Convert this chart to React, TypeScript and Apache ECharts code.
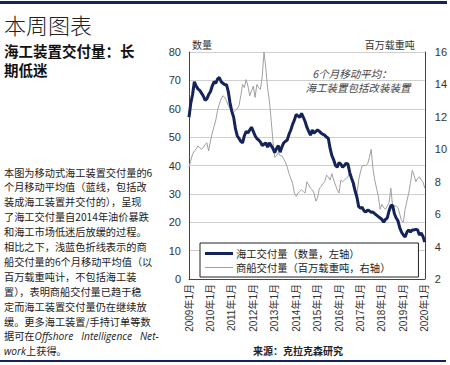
import React, { useEffect, useRef } from "react";
import * as echarts from "echarts";

// Monthly categories 2009年1月 .. 2020年1月
const months: string[] = [];
for (let y = 2009; y <= 2020; y++) {
  for (let m = 1; m <= 12; m++) {
    if (y === 2020 && m > 1) break;
    months.push(`${y}年${m}月`);
  }
}

// 海工交付量（数量，左轴） — 6-month moving average
const offshoreDeliveries = [
  57, 62, 65, 69.5, 68, 67, 66.5, 65.5, 64.5, 63, 63.5, 65,
  66, 68, 69.5, 69, 70.5, 71, 69.5, 69, 68.5, 68.5, 66, 62,
  59, 57, 53, 50.5, 49.5, 48.5, 48, 50.5, 52, 51.5, 52.5, 53.5,
  52, 50.5, 49.5, 49, 48.3, 47, 47.5, 48, 46.5, 48, 47, 46,
  44.5, 46, 47, 44.7, 46.5, 48, 48.5, 49, 51, 52.5, 54.5, 56,
  58, 57.5, 57, 58.4, 57, 55.5, 53.5, 52, 50.7, 52.5, 51.4, 52,
  52.5, 52, 51.4, 51, 50.7, 50, 49.6, 46, 43.5, 42, 40, 39.4,
  41, 40.5, 39.4, 40, 40.8, 40.5, 37.5, 35.5, 33.8, 31, 28.9, 25.5,
  25, 25.2, 24, 23.6, 24.3, 24, 23.5, 23.6, 23, 22.5, 22, 21.5,
  21, 20, 21, 21.5, 24, 25.8, 26, 23, 21.5, 20.5, 18, 16.5,
  15.5, 14.8, 16.5, 17.3, 16.5, 17.3, 17.3, 17.5, 17.3, 15.5, 16.2, 15,
  13,
];

// 商船交付量（百万载重吨，右轴） — 6-month moving average
const merchantDeliveries = [
  8.9, 9.3, 9.7, 9.9, 10.0, 10.2, 10.1, 10.0, 10.1, 10.3, 10.4, 9.9,
  10.5, 11.0, 11.4, 11.8, 12.4, 12.8, 13.1, 13.3, 13.2, 13.0, 12.7, 12.5,
  12.4, 12.3, 12.4, 12.5, 12.7, 13.3, 14.0, 13.8, 14.3, 13.9, 13.3, 13.6,
  13.9, 13.2, 14.0, 13.8, 13.7, 14.5, 16.0, 15.0, 13.8, 13.0, 11.8, 10.5,
  9.5, 9.6, 9.8, 9.6, 9.6, 9.4, 9.2, 8.9, 8.5, 8.2, 7.9, 7.3,
  7.1, 7.3, 7.4, 7.5, 7.4, 7.3, 8.0, 7.8, 7.6, 7.5, 7.3, 6.8,
  7.0, 7.6, 7.7, 7.9, 8.0, 8.4, 8.3, 8.1, 8.5, 8.1, 7.8, 7.5,
  7.3, 8.1, 8.0, 8.1, 8.2, 8.3, 8.6, 8.2, 7.6, 7.4, 7.2, 8.1,
  8.6, 9.0, 9.0, 9.0, 9.1, 9.5, 10.0, 8.8, 8.1, 7.6, 7.1, 6.3,
  6.6, 6.4, 6.3, 6.5, 6.7, 7.6, 6.5, 6.5, 6.5, 6.4, 6.0, 5.6,
  5.5, 6.3, 6.8, 7.3, 7.9, 8.7, 8.4, 8.0, 8.2, 8.3, 8.1, 8.0,
  7.6,
];

const seriesNames = ["海工交付量（数量，左轴）", "商船交付量（百万载重吨，右轴）"];

const title = "本周图表";
const subtitleLines = ["海工装置交付量：长", "期低迷"];
const bodyLines = [
  "本图为移动式海工装置交付量的6",
  "个月移动平均值（蓝线，包括改",
  "装成海工装置并交付的），呈现",
  "了海工交付量自2014年油价暴跌",
  "和海工市场低迷后放缓的过程。",
  "相比之下，浅蓝色折线表示的商",
  "船交付量的6个月移动平均值（以",
  "百万载重吨计，不包括海工装",
  "置），表明商船交付量已趋于稳",
  "定而海工装置交付量仍在继续放",
  "缓。更多海工装置/手持订单等数",
];
const annotationLines = ["6个月移动平均：", "海工装置包括改装装置"];
const sourceText = "来源：克拉克森研究";

const CJK = "'Noto Sans CJK SC', 'Liberation Sans', sans-serif";
const NUM = "'Liberation Sans', Arial, 'Noto Sans CJK SC', sans-serif";
const NAVY = "#14245a";
const BODY_FONT = 10.2;

export default function App() {
  const ref = useRef<HTMLDivElement>(null);
  useEffect(() => {
    if (!ref.current) return;
    const chart = echarts.init(ref.current, undefined, { renderer: "svg" });

    const bodyGraphics: any[] = bodyLines.map((t, i) => ({
      type: "text",
      left: 4,
      top: 167 + i * 14.9,
      style: { text: t, font: `${BODY_FONT}px ${CJK}`, fill: "#222" },
    }));
    bodyGraphics.push({
      type: "text",
      left: 4,
      top: 167 + 11 * 14.9,
      style: {
        text: "{n|据可在}{i|Offshore   Intelligence   Net-}",
        rich: {
          n: { font: `${BODY_FONT}px ${CJK}`, fill: "#222" },
          i: { font: `italic ${BODY_FONT}px 'Open Sans', ${CJK}`, fill: "#222" },
        },
      },
    });
    bodyGraphics.push({
      type: "text",
      left: 4,
      top: 167 + 12 * 14.9,
      style: {
        text: "{i|work}{n|上获得。}",
        rich: {
          n: { font: `${BODY_FONT}px ${CJK}`, fill: "#222" },
          i: { font: `italic ${BODY_FONT}px 'Open Sans', ${CJK}`, fill: "#222" },
        },
      },
    });

    chart.setOption({
      animation: false,
      backgroundColor: "#fff",
      grid: { left: 189, right: 25, top: 52, bottom: 86, containLabel: false },
      legend: {
        orient: "vertical",
        left: 200,
        top: 243,
        padding: [5, 28, 4, 5],
        itemGap: 3,
        itemWidth: 28,
        itemHeight: 11,
        backgroundColor: "#fff",
        borderColor: "#222",
        borderWidth: 1,
        textStyle: {
          fontFamily: CJK,
          fontSize: 10.3,
          lineHeight: 11,
          color: "#222",
          padding: [0, 0, 0, -2],
        },
        data: [
          { name: seriesNames[0], icon: "path://M0,4H28V7H0Z", itemStyle: { color: NAVY } },
          { name: seriesNames[1], icon: "path://M0,5H28V6H0Z", itemStyle: { color: "#a0a0a0" } },
        ],
      },
      xAxis: {
        type: "category",
        data: months,
        boundaryGap: false,
        axisLine: { lineStyle: { color: "#444", width: 1 } },
        axisTick: { show: false },
        axisLabel: {
          interval: 11,
          rotate: 90,
          margin: 5,
          fontFamily: NUM,
          fontSize: 10,
          color: "#333",
        },
        splitLine: { show: false },
      },
      yAxis: [
        {
          type: "value",
          min: 0,
          max: 80,
          interval: 10,
          name: "数量",
          nameLocation: "end",
          nameGap: 3,
          nameTextStyle: { fontFamily: CJK, fontSize: 10, color: "#333", align: "left", padding: [0, 0, 0, 3] },
          axisLine: { show: true, lineStyle: { color: "#444", width: 1 } },
          axisTick: { show: false },
          axisLabel: { fontFamily: NUM, fontSize: 11, color: "#333", margin: 8 },
          splitLine: { show: true, lineStyle: { color: "#cfcfcf", width: 1 } },
        },
        {
          type: "value",
          min: 2,
          max: 16,
          interval: 2,
          position: "right",
          name: "百万载重吨",
          nameLocation: "end",
          nameGap: 3,
          nameTextStyle: { fontFamily: CJK, fontSize: 10, color: "#333", align: "right", padding: [0, 10, 0, 0] },
          axisLine: { show: true, lineStyle: { color: "#444", width: 1 } },
          axisTick: { show: false },
          axisLabel: { fontFamily: NUM, fontSize: 11, color: "#333", margin: 10 },
          splitLine: { show: false },
        },
      ],
      series: [
        {
          name: seriesNames[1],
          type: "line",
          yAxisIndex: 1,
          data: merchantDeliveries,
          symbol: "none",
          lineStyle: { color: "#a0a0a0", width: 1 },
          itemStyle: { color: "#a0a0a0" },
          z: 2,
        },
        {
          name: seriesNames[0],
          type: "line",
          yAxisIndex: 0,
          data: offshoreDeliveries,
          symbol: "none",
          lineStyle: { color: NAVY, width: 3 },
          itemStyle: { color: NAVY },
          z: 3,
        },
      ],
      graphic: [
        { type: "rect", shape: { x: 0, y: 1, width: 447, height: 3 }, style: { fill: NAVY } },
        { type: "rect", shape: { x: 0, y: 360, width: 446, height: 2 }, style: { fill: NAVY } },
        {
          type: "text",
          left: 4,
          top: 13,
          style: { text: title, font: `300 22px ${CJK}`, fill: "#222" },
        },
        {
          type: "text",
          left: 4,
          top: 43,
          style: { text: subtitleLines[0], font: `bold 14.5px ${CJK}`, fill: "#111" },
        },
        {
          type: "text",
          left: 4,
          top: 62,
          style: { text: subtitleLines[1], font: `bold 14.5px ${CJK}`, fill: "#111" },
        },
        ...bodyGraphics,
        {
          type: "text",
          x: 352,
          y: 73,
          style: {
            text: annotationLines[0],
            font: `italic 10.5px ${CJK}`,
            fill: "#444",
            align: "center",
            verticalAlign: "middle",
          },
        },
        {
          type: "text",
          x: 358,
          y: 87,
          style: {
            text: annotationLines[1],
            font: `italic 10.5px ${CJK}`,
            fill: "#444",
            align: "center",
            verticalAlign: "middle",
          },
        },
        {
          type: "text",
          x: 298,
          y: 350,
          style: {
            text: sourceText,
            font: `bold 10px ${CJK}`,
            fill: "#222",
            align: "center",
            verticalAlign: "middle",
          },
        },
      ],
    });
    return () => chart.dispose();
  }, []);
  return (
    <div
      ref={ref}
      style={{ position: "absolute", left: 0, top: 0, width: 450, height: 365 }}
    />
  );
}
